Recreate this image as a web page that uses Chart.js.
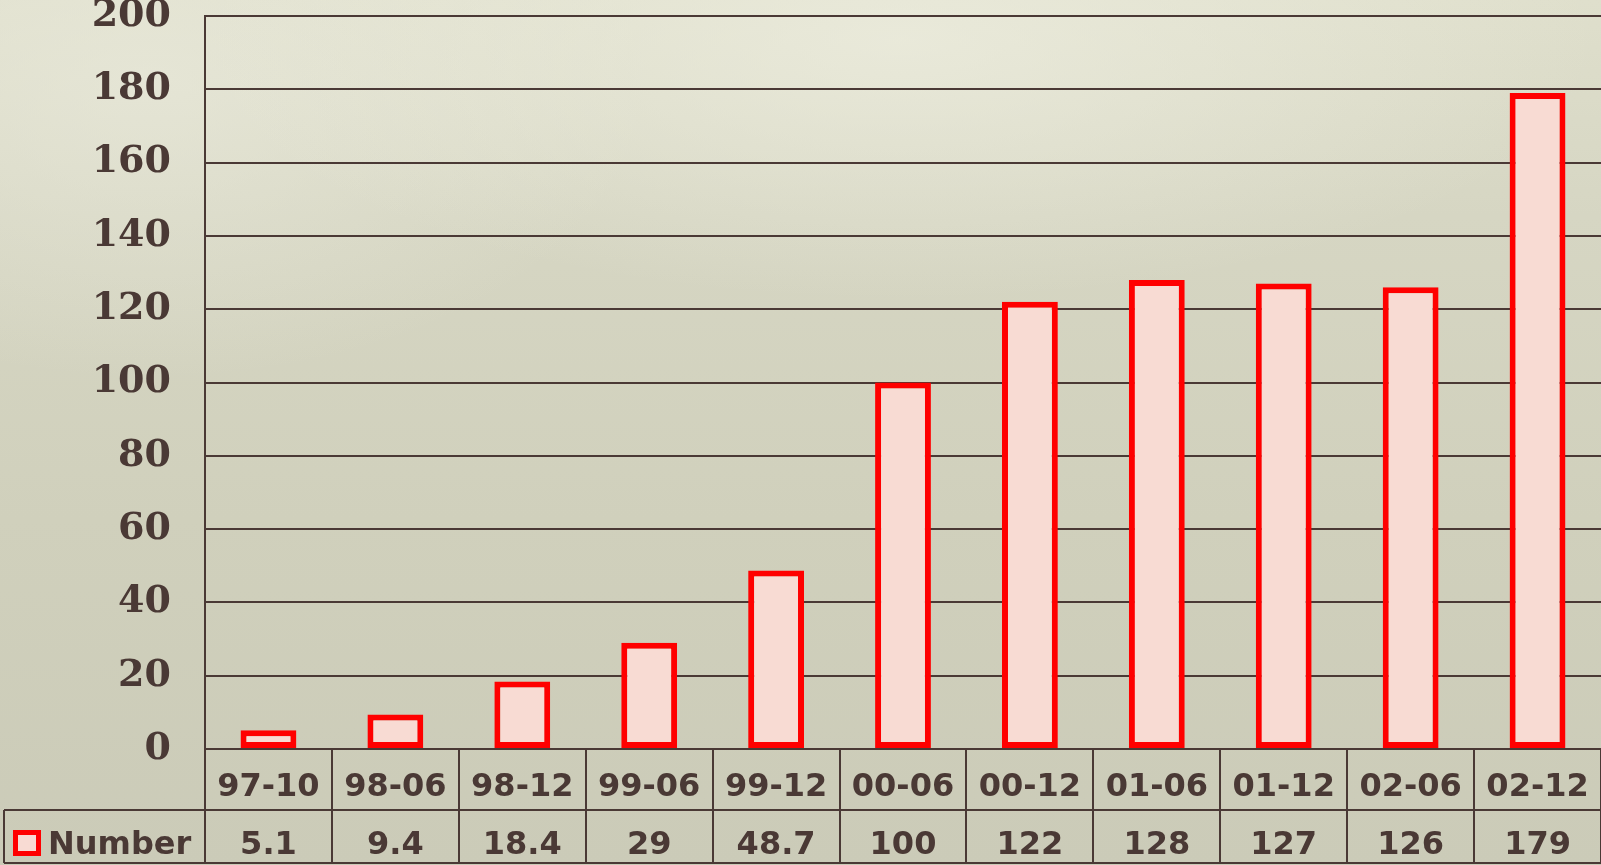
<!DOCTYPE html>
<html>
<head>
<meta charset="utf-8">
<script src="https://cdn.jsdelivr.net/npm/chart.js@4/dist/chart.umd.min.js"></script>
<style>
  html, body { margin: 0; padding: 0; }
  body {
    width: 1601px; height: 865px; overflow: hidden;
    background:
      radial-gradient(ellipse 700px 260px at 900px 40px, rgba(238,238,224,0.7), rgba(238,238,224,0) 100%),
      radial-gradient(ellipse 500px 300px at 150px 80px, rgba(234,234,220,0.65), rgba(234,234,220,0) 100%),
      linear-gradient(180deg, #dfdfcc 0%, #d6d6c3 25%, #d0d0bc 60%, #cbcbb8 100%);
  }
  #wrap { position: absolute; left: 0; top: 0; width: 1601px; height: 865px; }
</style>
</head>
<body>
<div id="wrap"><canvas id="chart"></canvas></div>
<script>
// categories (year-month) and values
const periods = ["97-10", "98-06", "98-12", "99-06", "99-12", "00-06", "00-12", "01-06", "01-12", "02-06", "02-12"];
const numbers = [5.1, 9.4, 18.4, 29, 48.7, 100, 122, 128, 127, 126, 179];
const seriesName = "Number";
const yTicks = [0, 20, 40, 60, 80, 100, 120, 140, 160, 180, 200];

const ink = "#4a3935";
const barRed = "#ff0000";
const barFill = "#f8dbd3";

/* ===============================
   DATA TABLE UNDER THE AXIS
================================ */
const tablePlugin = {
  id: "dataTable",
  afterDraw(chart) {
    const ctx = chart.ctx;
    const x = chart.scales.x;
    const area = chart.chartArea;
    const rowTop = area.bottom;      // category row
    const rowMid = 810;              // value row top
    const rowBot = 863;
    const step = (x.right - x.left) / periods.length;

    ctx.save();
    ctx.strokeStyle = ink;
    ctx.lineWidth = 2;

    // vertical cell lines
    for (let i = 0; i <= periods.length; i++) {
      const px = Math.round(x.left + i * step);
      ctx.beginPath();
      ctx.moveTo(px, rowTop);
      ctx.lineTo(px, rowBot);
      ctx.stroke();
    }
    // horizontal lines
    ctx.beginPath();
    ctx.moveTo(4, rowMid); ctx.lineTo(x.right, rowMid);
    ctx.moveTo(4, rowBot); ctx.lineTo(x.right, rowBot);
    ctx.moveTo(4, rowMid); ctx.lineTo(4, rowBot);
    ctx.stroke();

    // legend key
    ctx.fillStyle = barFill;
    ctx.fillRect(13, 830, 28, 26);
    ctx.strokeStyle = barRed;
    ctx.lineWidth = 5;
    ctx.strokeRect(15.5, 832.5, 23, 21);

    ctx.fillStyle = ink;
    ctx.font = "bold 32px 'DejaVu Sans'";
    ctx.textBaseline = "middle";
    ctx.textAlign = "left";
    ctx.fillText(seriesName, 48, 846);

    ctx.textAlign = "center";
    numbers.forEach((v, i) => {
      ctx.fillText(String(v), x.getPixelForValue(i), 846);
    });
    ctx.restore();
  }
};

new Chart(document.getElementById("chart"), {
  type: "bar",
  data: {
    labels: periods,
    datasets: [{
      label: seriesName,
      data: numbers,
      backgroundColor: barFill,
      borderColor: barRed,
      borderWidth: 6,
      borderSkipped: false,
      categoryPercentage: 1,
      barPercentage: 0.44
    }]
  },
  options: {
    responsive: true,
    maintainAspectRatio: false,
    devicePixelRatio: 1,
    animation: false,
    layout: { padding: { top: 16, right: 0, left: 0, bottom: 0 } },
    plugins: {
      legend: { display: false },
      tooltip: { enabled: false }
    },
    scales: {
      x: {
        grid: { display: false },
        border: { display: false },
        ticks: {
          color: ink,
          padding: 11,
          maxRotation: 0,
          autoSkip: false,
          font: { family: "DejaVu Sans", weight: "bold", size: 32 }
        },
        afterFit(scale) {
          scale.height = 116;
          scale.paddingLeft = 0;
          scale.paddingRight = 0;
        }
      },
      y: {
        min: 0,
        max: 200,
        afterBuildTicks(scale) {
          scale.ticks = yTicks.map(v => ({ value: v }));
        },
        grid: { color: ink, lineWidth: 2, drawTicks: false },
        border: { display: true, color: ink, width: 2 },
        ticks: {
          color: ink,
          padding: 34,
          font: { family: "DejaVu Serif", weight: "bold", size: 38 }
        },
        afterFit(scale) {
          scale.width = 205;
          scale.paddingTop = 0;
          scale.paddingBottom = 0;
        }
      }
    }
  },
  plugins: [tablePlugin]
});
</script>
</body>
</html>
